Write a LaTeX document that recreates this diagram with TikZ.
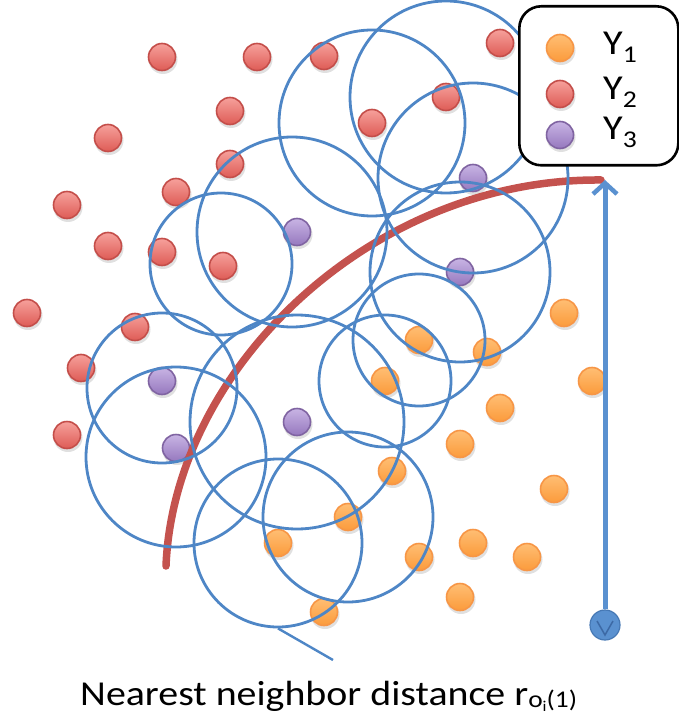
\documentclass[tikz,border=0pt]{standalone}
\usepackage{fontspec}
\setmainfont{Carlito}
\usetikzlibrary{arrows.meta}
\definecolor{ringblue}{RGB}{78,134,198}
\definecolor{arrowblue}{RGB}{90,145,208}
\definecolor{curvered}{RGB}{196,82,78}
\definecolor{redtop}{RGB}{246,160,155}
\definecolor{redbot}{RGB}{222,92,86}
\definecolor{redrim}{RGB}{196,78,74}
\definecolor{ortop}{RGB}{255,190,115}
\definecolor{orbot}{RGB}{251,155,60}
\definecolor{orrim}{RGB}{247,150,70}
\definecolor{putop}{RGB}{200,180,228}
\definecolor{pubot}{RGB}{150,120,190}
\definecolor{purim}{RGB}{128,100,162}
\begin{document}
\begin{tikzpicture}[x=1pt,y=-1pt,
  dotbase/.style={circle, minimum size=27pt, inner sep=0pt, line width=1.6pt},
  reddot/.style={dotbase, draw=redrim, top color=redtop, bottom color=redbot},
  ordot/.style={dotbase, draw=orrim, top color=ortop, bottom color=orbot},
  pudot/.style={dotbase, draw=purim, top color=putop, bottom color=pubot},
  shadowdot/.style={circle, minimum size=29pt, inner sep=0pt, fill=black, opacity=0.12},
  ring/.style={circle, draw=ringblue, line width=2.8pt, inner sep=0pt, minimum size=#1},
  redcurve/.style={draw=curvered, line width=7.5pt, line cap=round},
  arrowshaft/.style={draw=arrowblue, line width=5pt},
  legendbox/.style={draw=black, line width=2.6pt, fill=white, rounded corners=22pt},
  bigtext/.style={font=\fontsize{35}{40}\selectfont, inner sep=0pt, xscale=#1},
]
\path[use as bounding box] (0,0) rectangle (678,722);

% ---- dots ----
\foreach \x/\y [count=\i] in {162/57,257/57,324/56,500/43,230/111,446/97,372/123,108/138,230/164,176/192,67/205,108/246,162/252,223/266,27/313,135/327,81/368,67/435}{
  \node[shadowdot] at (\x+1,\y+2.5) {};
  \node[reddot] (r\i) at (\x,\y) {};
}
\foreach \x/\y [count=\i] in {297/232,473/178,460/272,162/381,176/448,297/422}{
  \node[shadowdot] at (\x+1,\y+2.5) {};
  \node[pudot] (p\i) at (\x,\y) {};
}
\foreach \x/\y [count=\i] in {564/313,419/340,487/352,592/381,385/381,500/408,460/444,392/471,554/489,348/517,278/543,473/543,419/557,527/557,324/612,460/597}{
  \node[shadowdot] at (\x+1,\y+2.5) {};
  \node[ordot] (o\i) at (\x,\y) {};
}

% ---- red boundary curve ----
\coordinate (rs) at (166,566);
\coordinate (re) at (601,180);
\draw[redcurve] (rs) .. controls (174,368) and (372,178) .. (re);

% ---- neighbourhood circles ----
\foreach \x/\y/\r [count=\i] in {221/264/71, 292/232/95, 372/123/93, 446/97/96, 473/178/95, 460/272/90, 419/340/66, 385/381/66, 297/422/107, 162/388/75, 176/457/90, 348/517/85, 278/543/84}{
  \node[ring=2*\r] (c\i) at (\x,\y) {};
}

% ---- thin line from last circle ----
\coordinate (lend) at (333,660);
\draw[draw=ringblue, line width=2.4pt] (c13.south) -- (lend);

% ---- distance arrow ----
\coordinate (atop) at (605,180);
\node[circle, minimum size=30pt, inner sep=0pt, fill=arrowblue, draw={rgb,255:red,70;green,120;blue,180}, line width=1.2pt] (abot) at (605,625) {};
\draw[arrowshaft, -{Straight Barb[length=11pt, width=24pt, line width=4.5pt]}] (abot.north) -- (atop);
\draw[draw={rgb,255:red,60;green,105;blue,165}, line width=1.5pt] (597,621) -- (605,635) -- (613,621);

% ---- legend ----
\node[legendbox, minimum width=159pt, minimum height=159pt, anchor=north west, inner sep=0pt] (leg) at (518,5) {};
\node[shadowdot] at (561,50.5) {};
\node[ordot] (l1) at (560,48) {};
\node[shadowdot] at (561,96.5) {};
\node[reddot] (l2) at (560,94) {};
\node[shadowdot] at (561,137.5) {};
\node[pudot] (l3) at (560,135) {};
\node[bigtext=1.15, anchor=base west] (t1) at (603,55) {Y\raisebox{-8pt}{\fontsize{24}{24}\selectfont 1}};
\node[bigtext=1.15, anchor=base west] (t2) at (603,100) {Y\raisebox{-8pt}{\fontsize{24}{24}\selectfont 2}};
\node[bigtext=1.15, anchor=base west] (t3) at (603,140) {Y\raisebox{-8pt}{\fontsize{24}{24}\selectfont 3}};

% ---- caption ----
\node[bigtext=1.14, anchor=base west] (cap) at (80,705) {Nearest neighbor distance r{\fontsize{24}{24}\selectfont\raisebox{-2pt}{o}\raisebox{-6pt}{\fontsize{15}{15}\selectfont i}\raisebox{-2pt}{(1)}}};
\end{tikzpicture}
\end{document}
